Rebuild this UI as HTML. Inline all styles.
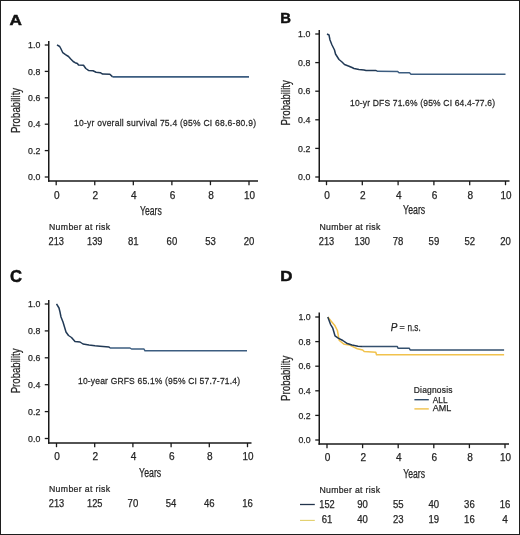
<!DOCTYPE html>
<html><head><meta charset="utf-8"><style>
html,body{margin:0;padding:0;background:#fff;}
svg{display:block;will-change:transform;}
svg text{font-family:"Liberation Sans", sans-serif;fill:#262626;stroke:#262626;stroke-width:0.25px;}
</style></head><body>
<svg width="520" height="535" viewBox="0 0 520 535">
<rect x="0" y="0" width="520" height="535" fill="#fff"/>
<text transform="translate(9.5,25) scale(1.16,1)" font-size="14.8" font-weight="bold" style="fill:#111;stroke:#111;stroke-width:0.5px">A</text>
<line x1="48.75" y1="41" x2="48.75" y2="181.75" stroke="#1a1a1a" stroke-width="1.5"/>
<line x1="48.0" y1="181" x2="258" y2="181" stroke="#1a1a1a" stroke-width="1.5"/>
<line x1="44.75" y1="177.0" x2="48.75" y2="177.0" stroke="#1a1a1a" stroke-width="1.3"/>
<text x="40.3" y="180.1" font-size="9.7" text-anchor="end" textLength="12.2" lengthAdjust="spacingAndGlyphs">0.0</text>
<line x1="44.75" y1="150.6" x2="48.75" y2="150.6" stroke="#1a1a1a" stroke-width="1.3"/>
<text x="40.3" y="153.7" font-size="9.7" text-anchor="end" textLength="12.2" lengthAdjust="spacingAndGlyphs">0.2</text>
<line x1="44.75" y1="124.19999999999999" x2="48.75" y2="124.19999999999999" stroke="#1a1a1a" stroke-width="1.3"/>
<text x="40.3" y="127.3" font-size="9.7" text-anchor="end" textLength="12.2" lengthAdjust="spacingAndGlyphs">0.4</text>
<line x1="44.75" y1="97.79999999999998" x2="48.75" y2="97.79999999999998" stroke="#1a1a1a" stroke-width="1.3"/>
<text x="40.3" y="100.9" font-size="9.7" text-anchor="end" textLength="12.2" lengthAdjust="spacingAndGlyphs">0.6</text>
<line x1="44.75" y1="71.39999999999999" x2="48.75" y2="71.39999999999999" stroke="#1a1a1a" stroke-width="1.3"/>
<text x="40.3" y="74.5" font-size="9.7" text-anchor="end" textLength="12.2" lengthAdjust="spacingAndGlyphs">0.8</text>
<line x1="44.75" y1="45.0" x2="48.75" y2="45.0" stroke="#1a1a1a" stroke-width="1.3"/>
<text x="40.3" y="48.1" font-size="9.7" text-anchor="end" textLength="12.2" lengthAdjust="spacingAndGlyphs">1.0</text>
<line x1="56.2" y1="181" x2="56.2" y2="185.2" stroke="#1a1a1a" stroke-width="1.3"/>
<text x="56.8" y="198.6" font-size="10" text-anchor="middle" textLength="5.6" lengthAdjust="spacingAndGlyphs">0</text>
<line x1="94.76" y1="181" x2="94.76" y2="185.2" stroke="#1a1a1a" stroke-width="1.3"/>
<text x="95.36" y="198.6" font-size="10" text-anchor="middle" textLength="5.6" lengthAdjust="spacingAndGlyphs">2</text>
<line x1="133.32" y1="181" x2="133.32" y2="185.2" stroke="#1a1a1a" stroke-width="1.3"/>
<text x="133.92" y="198.6" font-size="10" text-anchor="middle" textLength="5.6" lengthAdjust="spacingAndGlyphs">4</text>
<line x1="171.88000000000002" y1="181" x2="171.88000000000002" y2="185.2" stroke="#1a1a1a" stroke-width="1.3"/>
<text x="172.48" y="198.6" font-size="10" text-anchor="middle" textLength="5.6" lengthAdjust="spacingAndGlyphs">6</text>
<line x1="210.44" y1="181" x2="210.44" y2="185.2" stroke="#1a1a1a" stroke-width="1.3"/>
<text x="211.04" y="198.6" font-size="10" text-anchor="middle" textLength="5.6" lengthAdjust="spacingAndGlyphs">8</text>
<line x1="249.0" y1="181" x2="249.0" y2="185.2" stroke="#1a1a1a" stroke-width="1.3"/>
<text x="249.6" y="198.6" font-size="10" text-anchor="middle" textLength="11" lengthAdjust="spacingAndGlyphs">10</text>
<text x="140" y="214.7" font-size="12" textLength="21.69999999999999" lengthAdjust="spacingAndGlyphs">Years</text>
<text transform="translate(19.8,133.1) rotate(-90)" x="0" y="0" font-size="12" textLength="45.3" lengthAdjust="spacingAndGlyphs">Probability</text>
<text transform="translate(49,230) scale(0.88,1)" font-size="9.9" textLength="69.32" lengthAdjust="spacing">Number at risk</text>
<text x="56.2" y="244.8" font-size="10" text-anchor="middle" textLength="15.4" lengthAdjust="spacingAndGlyphs">213</text>
<text x="94.76" y="244.8" font-size="10" text-anchor="middle" textLength="15.4" lengthAdjust="spacingAndGlyphs">139</text>
<text x="133.32" y="244.8" font-size="10" text-anchor="middle" textLength="10.6" lengthAdjust="spacingAndGlyphs">81</text>
<text x="171.88" y="244.8" font-size="10" text-anchor="middle" textLength="10.6" lengthAdjust="spacingAndGlyphs">60</text>
<text x="210.44" y="244.8" font-size="10" text-anchor="middle" textLength="10.6" lengthAdjust="spacingAndGlyphs">53</text>
<text x="249.0" y="244.8" font-size="10" text-anchor="middle" textLength="10.6" lengthAdjust="spacingAndGlyphs">20</text>
<text transform="translate(280.3,23) scale(1.0,1)" font-size="14.8" font-weight="bold" style="fill:#111;stroke:#111;stroke-width:0.5px">B</text>
<line x1="319.25" y1="30" x2="319.25" y2="181.75" stroke="#1a1a1a" stroke-width="1.5"/>
<line x1="318.5" y1="181" x2="509.5" y2="181" stroke="#1a1a1a" stroke-width="1.5"/>
<line x1="315.25" y1="177.0" x2="319.25" y2="177.0" stroke="#1a1a1a" stroke-width="1.3"/>
<text x="310.3" y="180.1" font-size="9.7" text-anchor="end" textLength="12.2" lengthAdjust="spacingAndGlyphs">0.0</text>
<line x1="315.25" y1="148.4" x2="319.25" y2="148.4" stroke="#1a1a1a" stroke-width="1.3"/>
<text x="310.3" y="151.5" font-size="9.7" text-anchor="end" textLength="12.2" lengthAdjust="spacingAndGlyphs">0.2</text>
<line x1="315.25" y1="119.8" x2="319.25" y2="119.8" stroke="#1a1a1a" stroke-width="1.3"/>
<text x="310.3" y="122.9" font-size="9.7" text-anchor="end" textLength="12.2" lengthAdjust="spacingAndGlyphs">0.4</text>
<line x1="315.25" y1="91.19999999999999" x2="319.25" y2="91.19999999999999" stroke="#1a1a1a" stroke-width="1.3"/>
<text x="310.3" y="94.3" font-size="9.7" text-anchor="end" textLength="12.2" lengthAdjust="spacingAndGlyphs">0.6</text>
<line x1="315.25" y1="62.599999999999994" x2="319.25" y2="62.599999999999994" stroke="#1a1a1a" stroke-width="1.3"/>
<text x="310.3" y="65.7" font-size="9.7" text-anchor="end" textLength="12.2" lengthAdjust="spacingAndGlyphs">0.8</text>
<line x1="315.25" y1="34.0" x2="319.25" y2="34.0" stroke="#1a1a1a" stroke-width="1.3"/>
<text x="310.3" y="37.1" font-size="9.7" text-anchor="end" textLength="12.2" lengthAdjust="spacingAndGlyphs">1.0</text>
<line x1="326.5" y1="181" x2="326.5" y2="185.2" stroke="#1a1a1a" stroke-width="1.3"/>
<text x="327.1" y="198.6" font-size="10" text-anchor="middle" textLength="5.6" lengthAdjust="spacingAndGlyphs">0</text>
<line x1="362.3" y1="181" x2="362.3" y2="185.2" stroke="#1a1a1a" stroke-width="1.3"/>
<text x="362.9" y="198.6" font-size="10" text-anchor="middle" textLength="5.6" lengthAdjust="spacingAndGlyphs">2</text>
<line x1="398.1" y1="181" x2="398.1" y2="185.2" stroke="#1a1a1a" stroke-width="1.3"/>
<text x="398.7" y="198.6" font-size="10" text-anchor="middle" textLength="5.6" lengthAdjust="spacingAndGlyphs">4</text>
<line x1="433.9" y1="181" x2="433.9" y2="185.2" stroke="#1a1a1a" stroke-width="1.3"/>
<text x="434.5" y="198.6" font-size="10" text-anchor="middle" textLength="5.6" lengthAdjust="spacingAndGlyphs">6</text>
<line x1="469.7" y1="181" x2="469.7" y2="185.2" stroke="#1a1a1a" stroke-width="1.3"/>
<text x="470.3" y="198.6" font-size="10" text-anchor="middle" textLength="5.6" lengthAdjust="spacingAndGlyphs">8</text>
<line x1="505.5" y1="181" x2="505.5" y2="185.2" stroke="#1a1a1a" stroke-width="1.3"/>
<text x="506.1" y="198.6" font-size="10" text-anchor="middle" textLength="11" lengthAdjust="spacingAndGlyphs">10</text>
<text x="403.1" y="214.4" font-size="12" textLength="22.099999999999966" lengthAdjust="spacingAndGlyphs">Years</text>
<text transform="translate(290,125.5) rotate(-90)" x="0" y="0" font-size="12" textLength="45.400000000000006" lengthAdjust="spacingAndGlyphs">Probability</text>
<text transform="translate(319.4,230) scale(0.88,1)" font-size="9.9" textLength="69.32" lengthAdjust="spacing">Number at risk</text>
<text x="326.5" y="244.8" font-size="10" text-anchor="middle" textLength="15.4" lengthAdjust="spacingAndGlyphs">213</text>
<text x="362.3" y="244.8" font-size="10" text-anchor="middle" textLength="15.4" lengthAdjust="spacingAndGlyphs">130</text>
<text x="398.1" y="244.8" font-size="10" text-anchor="middle" textLength="10.6" lengthAdjust="spacingAndGlyphs">78</text>
<text x="433.9" y="244.8" font-size="10" text-anchor="middle" textLength="10.6" lengthAdjust="spacingAndGlyphs">59</text>
<text x="469.7" y="244.8" font-size="10" text-anchor="middle" textLength="10.6" lengthAdjust="spacingAndGlyphs">52</text>
<text x="505.5" y="244.8" font-size="10" text-anchor="middle" textLength="10.6" lengthAdjust="spacingAndGlyphs">20</text>
<text transform="translate(10.0,281.7) scale(1.0,1)" font-size="16.6" font-weight="bold" style="fill:#111;stroke:#111;stroke-width:0.5px">C</text>
<line x1="48.75" y1="300" x2="48.75" y2="443.75" stroke="#1a1a1a" stroke-width="1.5"/>
<line x1="48.0" y1="443" x2="251.5" y2="443" stroke="#1a1a1a" stroke-width="1.5"/>
<line x1="44.75" y1="438.5" x2="48.75" y2="438.5" stroke="#1a1a1a" stroke-width="1.3"/>
<text x="40.3" y="441.6" font-size="9.7" text-anchor="end" textLength="12.2" lengthAdjust="spacingAndGlyphs">0.0</text>
<line x1="44.75" y1="411.6" x2="48.75" y2="411.6" stroke="#1a1a1a" stroke-width="1.3"/>
<text x="40.3" y="414.7" font-size="9.7" text-anchor="end" textLength="12.2" lengthAdjust="spacingAndGlyphs">0.2</text>
<line x1="44.75" y1="384.7" x2="48.75" y2="384.7" stroke="#1a1a1a" stroke-width="1.3"/>
<text x="40.3" y="387.8" font-size="9.7" text-anchor="end" textLength="12.2" lengthAdjust="spacingAndGlyphs">0.4</text>
<line x1="44.75" y1="357.79999999999995" x2="48.75" y2="357.79999999999995" stroke="#1a1a1a" stroke-width="1.3"/>
<text x="40.3" y="360.9" font-size="9.7" text-anchor="end" textLength="12.2" lengthAdjust="spacingAndGlyphs">0.6</text>
<line x1="44.75" y1="330.9" x2="48.75" y2="330.9" stroke="#1a1a1a" stroke-width="1.3"/>
<text x="40.3" y="334.0" font-size="9.7" text-anchor="end" textLength="12.2" lengthAdjust="spacingAndGlyphs">0.8</text>
<line x1="44.75" y1="304.0" x2="48.75" y2="304.0" stroke="#1a1a1a" stroke-width="1.3"/>
<text x="40.3" y="307.1" font-size="9.7" text-anchor="end" textLength="12.2" lengthAdjust="spacingAndGlyphs">1.0</text>
<line x1="56.5" y1="443" x2="56.5" y2="447.2" stroke="#1a1a1a" stroke-width="1.3"/>
<text x="57.1" y="459.7" font-size="10" text-anchor="middle" textLength="5.6" lengthAdjust="spacingAndGlyphs">0</text>
<line x1="94.7" y1="443" x2="94.7" y2="447.2" stroke="#1a1a1a" stroke-width="1.3"/>
<text x="95.3" y="459.7" font-size="10" text-anchor="middle" textLength="5.6" lengthAdjust="spacingAndGlyphs">2</text>
<line x1="132.9" y1="443" x2="132.9" y2="447.2" stroke="#1a1a1a" stroke-width="1.3"/>
<text x="133.5" y="459.7" font-size="10" text-anchor="middle" textLength="5.6" lengthAdjust="spacingAndGlyphs">4</text>
<line x1="171.1" y1="443" x2="171.1" y2="447.2" stroke="#1a1a1a" stroke-width="1.3"/>
<text x="171.7" y="459.7" font-size="10" text-anchor="middle" textLength="5.6" lengthAdjust="spacingAndGlyphs">6</text>
<line x1="209.3" y1="443" x2="209.3" y2="447.2" stroke="#1a1a1a" stroke-width="1.3"/>
<text x="209.9" y="459.7" font-size="10" text-anchor="middle" textLength="5.6" lengthAdjust="spacingAndGlyphs">8</text>
<line x1="247.5" y1="443" x2="247.5" y2="447.2" stroke="#1a1a1a" stroke-width="1.3"/>
<text x="248.1" y="459.7" font-size="10" text-anchor="middle" textLength="11" lengthAdjust="spacingAndGlyphs">10</text>
<text x="139.1" y="476.5" font-size="12" textLength="22.099999999999994" lengthAdjust="spacingAndGlyphs">Years</text>
<text transform="translate(19.8,393.3) rotate(-90)" x="0" y="0" font-size="12" textLength="44.900000000000034" lengthAdjust="spacingAndGlyphs">Probability</text>
<text transform="translate(49,492) scale(0.88,1)" font-size="9.9" textLength="69.32" lengthAdjust="spacing">Number at risk</text>
<text x="56.5" y="506.79999999999995" font-size="10" text-anchor="middle" textLength="15.4" lengthAdjust="spacingAndGlyphs">213</text>
<text x="94.7" y="506.79999999999995" font-size="10" text-anchor="middle" textLength="15.4" lengthAdjust="spacingAndGlyphs">125</text>
<text x="132.9" y="506.79999999999995" font-size="10" text-anchor="middle" textLength="10.6" lengthAdjust="spacingAndGlyphs">70</text>
<text x="171.1" y="506.79999999999995" font-size="10" text-anchor="middle" textLength="10.6" lengthAdjust="spacingAndGlyphs">54</text>
<text x="209.3" y="506.79999999999995" font-size="10" text-anchor="middle" textLength="10.6" lengthAdjust="spacingAndGlyphs">46</text>
<text x="247.5" y="506.79999999999995" font-size="10" text-anchor="middle" textLength="10.6" lengthAdjust="spacingAndGlyphs">16</text>
<text transform="translate(280.3,281.2) scale(1.14,1)" font-size="14.8" font-weight="bold" style="fill:#111;stroke:#111;stroke-width:0.5px">D</text>
<line x1="319.25" y1="312.5" x2="319.25" y2="444.75" stroke="#1a1a1a" stroke-width="1.5"/>
<line x1="318.5" y1="444" x2="509" y2="444" stroke="#1a1a1a" stroke-width="1.5"/>
<line x1="315.25" y1="440.0" x2="319.25" y2="440.0" stroke="#1a1a1a" stroke-width="1.3"/>
<text x="310.6" y="443.1" font-size="9.7" text-anchor="end" textLength="12.2" lengthAdjust="spacingAndGlyphs">0.0</text>
<line x1="315.25" y1="415.4" x2="319.25" y2="415.4" stroke="#1a1a1a" stroke-width="1.3"/>
<text x="310.6" y="418.5" font-size="9.7" text-anchor="end" textLength="12.2" lengthAdjust="spacingAndGlyphs">0.2</text>
<line x1="315.25" y1="390.8" x2="319.25" y2="390.8" stroke="#1a1a1a" stroke-width="1.3"/>
<text x="310.6" y="393.9" font-size="9.7" text-anchor="end" textLength="12.2" lengthAdjust="spacingAndGlyphs">0.4</text>
<line x1="315.25" y1="366.2" x2="319.25" y2="366.2" stroke="#1a1a1a" stroke-width="1.3"/>
<text x="310.6" y="369.3" font-size="9.7" text-anchor="end" textLength="12.2" lengthAdjust="spacingAndGlyphs">0.6</text>
<line x1="315.25" y1="341.6" x2="319.25" y2="341.6" stroke="#1a1a1a" stroke-width="1.3"/>
<text x="310.6" y="344.7" font-size="9.7" text-anchor="end" textLength="12.2" lengthAdjust="spacingAndGlyphs">0.8</text>
<line x1="315.25" y1="317.0" x2="319.25" y2="317.0" stroke="#1a1a1a" stroke-width="1.3"/>
<text x="310.6" y="320.1" font-size="9.7" text-anchor="end" textLength="12.2" lengthAdjust="spacingAndGlyphs">1.0</text>
<line x1="327.0" y1="444" x2="327.0" y2="448.2" stroke="#1a1a1a" stroke-width="1.3"/>
<text x="327.6" y="461" font-size="10" text-anchor="middle" textLength="5.6" lengthAdjust="spacingAndGlyphs">0</text>
<line x1="362.6" y1="444" x2="362.6" y2="448.2" stroke="#1a1a1a" stroke-width="1.3"/>
<text x="363.2" y="461" font-size="10" text-anchor="middle" textLength="5.6" lengthAdjust="spacingAndGlyphs">2</text>
<line x1="398.2" y1="444" x2="398.2" y2="448.2" stroke="#1a1a1a" stroke-width="1.3"/>
<text x="398.8" y="461" font-size="10" text-anchor="middle" textLength="5.6" lengthAdjust="spacingAndGlyphs">4</text>
<line x1="433.8" y1="444" x2="433.8" y2="448.2" stroke="#1a1a1a" stroke-width="1.3"/>
<text x="434.4" y="461" font-size="10" text-anchor="middle" textLength="5.6" lengthAdjust="spacingAndGlyphs">6</text>
<line x1="469.4" y1="444" x2="469.4" y2="448.2" stroke="#1a1a1a" stroke-width="1.3"/>
<text x="470.0" y="461" font-size="10" text-anchor="middle" textLength="5.6" lengthAdjust="spacingAndGlyphs">8</text>
<line x1="505.0" y1="444" x2="505.0" y2="448.2" stroke="#1a1a1a" stroke-width="1.3"/>
<text x="505.6" y="461" font-size="10" text-anchor="middle" textLength="11" lengthAdjust="spacingAndGlyphs">10</text>
<text x="403.2" y="477.7" font-size="12" textLength="21.80000000000001" lengthAdjust="spacingAndGlyphs">Years</text>
<text transform="translate(290,401) rotate(-90)" x="0" y="0" font-size="12" textLength="45.39999999999998" lengthAdjust="spacingAndGlyphs">Probability</text>
<text transform="translate(319.4,493) scale(0.88,1)" font-size="9.9" textLength="68.86" lengthAdjust="spacing">Number at risk</text>
<text x="327.0" y="508.0" font-size="10" text-anchor="middle" textLength="15.4" lengthAdjust="spacingAndGlyphs">152</text>
<text x="362.6" y="508.0" font-size="10" text-anchor="middle" textLength="10.6" lengthAdjust="spacingAndGlyphs">90</text>
<text x="398.2" y="508.0" font-size="10" text-anchor="middle" textLength="10.6" lengthAdjust="spacingAndGlyphs">55</text>
<text x="433.8" y="508.0" font-size="10" text-anchor="middle" textLength="10.6" lengthAdjust="spacingAndGlyphs">40</text>
<text x="469.4" y="508.0" font-size="10" text-anchor="middle" textLength="10.6" lengthAdjust="spacingAndGlyphs">36</text>
<text x="505.0" y="508.0" font-size="10" text-anchor="middle" textLength="10.6" lengthAdjust="spacingAndGlyphs">16</text>
<text x="327.0" y="523.4" font-size="10" text-anchor="middle" textLength="10.6" lengthAdjust="spacingAndGlyphs">61</text>
<text x="362.6" y="523.4" font-size="10" text-anchor="middle" textLength="10.6" lengthAdjust="spacingAndGlyphs">40</text>
<text x="398.2" y="523.4" font-size="10" text-anchor="middle" textLength="10.6" lengthAdjust="spacingAndGlyphs">23</text>
<text x="433.8" y="523.4" font-size="10" text-anchor="middle" textLength="10.6" lengthAdjust="spacingAndGlyphs">19</text>
<text x="469.4" y="523.4" font-size="10" text-anchor="middle" textLength="10.6" lengthAdjust="spacingAndGlyphs">16</text>
<text x="505.0" y="523.4" font-size="10" text-anchor="middle" textLength="5.6" lengthAdjust="spacingAndGlyphs">4</text>
<text transform="translate(74,125.5) scale(0.86,1)" font-size="9.9" textLength="211.63" lengthAdjust="spacing">10-yr overall survival 75.4 (95% CI 68.6-80.9)</text>
<text transform="translate(350,105.5) scale(0.86,1)" font-size="9.9" textLength="168.60" lengthAdjust="spacing">10-yr DFS 71.6% (95% CI 64.4-77.6)</text>
<text transform="translate(78,383.5) scale(0.86,1)" font-size="9.9" textLength="188.37" lengthAdjust="spacing">10-year GRFS 65.1% (95% CI 57.7-71.4)</text>
<text x="390.8" y="330.6" font-size="10" font-style="italic" textLength="6.6" lengthAdjust="spacingAndGlyphs">P</text>
<text x="402" y="330.4" font-size="9" text-anchor="middle" textLength="5.2" lengthAdjust="spacingAndGlyphs">=</text>
<text x="407.5" y="330.6" font-size="10" textLength="13.2" lengthAdjust="spacingAndGlyphs">n.s.</text>
<text transform="translate(413.75,392.5) scale(0.88,1)" font-size="9.6" textLength="44.03" lengthAdjust="spacing">Diagnosis</text>
<line x1="414.4" y1="399.7" x2="428.8" y2="399.7" stroke="#2e4a68" stroke-width="1.4"/>
<text x="432.75" y="402.5" font-size="9.3" textLength="14.75" lengthAdjust="spacingAndGlyphs">ALL</text>
<line x1="414.4" y1="408.9" x2="428.8" y2="408.9" stroke="#f1c24c" stroke-width="1.4"/>
<text x="432.75" y="411.25" font-size="9.3" textLength="18.5" lengthAdjust="spacingAndGlyphs">AML</text>
<line x1="300" y1="504.5" x2="314.8" y2="504.5" stroke="#22344c" stroke-width="1.3"/>
<line x1="300" y1="520.4" x2="314.8" y2="520.4" stroke="#e2cf6a" stroke-width="1.1"/>
<path d="M57.00,44.80 L59.70,46.50 L60.80,48.50 L62.80,52.70 L65.50,54.60 L68.50,56.50 L70.50,58.80 L73.20,61.50 L75.10,62.70 L77.40,63.50 L78.50,65.00 L83.50,65.20 L85.80,68.50 L88.50,70.40 L93.00,70.80 L96.10,72.30 L100.30,72.70 L102.60,74.10 L109.90,74.20 L112.60,76.90" fill="none" stroke="#213955" stroke-width="1.5" stroke-linejoin="round" stroke-linecap="butt"/>
<path d="M112.60,76.90 L249.00,76.90" fill="none" stroke="#3c5d80" stroke-width="1.6" stroke-linejoin="round" stroke-linecap="butt"/>
<path d="M327.00,34.00 L329.00,35.00 L330.00,40.00 L332.00,45.00 L334.50,50.00 L335.50,54.00 L339.00,59.50 L342.00,62.00 L344.50,64.50 L349.00,66.20 L352.00,67.50 L354.00,68.50 L359.00,69.50 L364.00,70.00 L366.00,70.50 L376.00,70.50 L377.00,71.20" fill="none" stroke="#213955" stroke-width="1.5" stroke-linejoin="round" stroke-linecap="butt"/>
<path d="M377.00,71.20 L397.50,71.40 L399.00,72.70 L409.50,72.70 L411.00,74.20 L505.50,74.20" fill="none" stroke="#3c5d80" stroke-width="1.5" stroke-linejoin="round" stroke-linecap="butt"/>
<path d="M56.50,303.80 L59.00,308.00 L60.00,312.00 L61.00,317.00 L63.00,322.00 L64.50,327.00 L66.00,332.00 L68.50,335.50 L71.50,337.50 L75.00,341.50 L80.00,342.00 L83.00,344.00 L89.00,345.00 L95.00,345.80 L100.00,346.20 L109.00,347.00 L110.00,348.00" fill="none" stroke="#213955" stroke-width="1.5" stroke-linejoin="round" stroke-linecap="butt"/>
<path d="M110.00,348.00 L130.00,348.00 L131.50,349.00 L144.00,349.00 L145.00,350.80 L247.00,350.80" fill="none" stroke="#3c5d80" stroke-width="1.5" stroke-linejoin="round" stroke-linecap="butt"/>
<path d="M327.80,317.00 L331.20,321.20 L335.00,325.80 L337.40,330.50 L338.50,336.60 L339.30,340.50 L344.30,344.30 L349.70,345.00 L354.30,347.40 L357.30,348.80 L362.70,350.00 L364.20,351.50 L375.80,352.30 L376.50,354.80 L504.10,354.80" fill="none" stroke="#f1c24c" stroke-width="1.5" stroke-linejoin="round" stroke-linecap="butt"/>
<path d="M327.80,317.00 L330.50,324.30 L332.80,328.20 L335.00,335.80 L338.20,338.20 L342.80,340.50 L346.60,343.20 L352.00,345.00 L358.00,346.20 L362.00,346.50" fill="none" stroke="#213955" stroke-width="1.5" stroke-linejoin="round" stroke-linecap="butt"/>
<path d="M362.00,346.50 L397.30,346.50 L398.00,348.20 L409.20,348.20 L410.20,350.00 L504.10,350.00" fill="none" stroke="#34506e" stroke-width="1.5" stroke-linejoin="round" stroke-linecap="butt"/>
<rect x="0.5" y="0.5" width="519" height="534" fill="none" stroke="#1e1e1e" stroke-width="1"/>
</svg>
</body></html>
